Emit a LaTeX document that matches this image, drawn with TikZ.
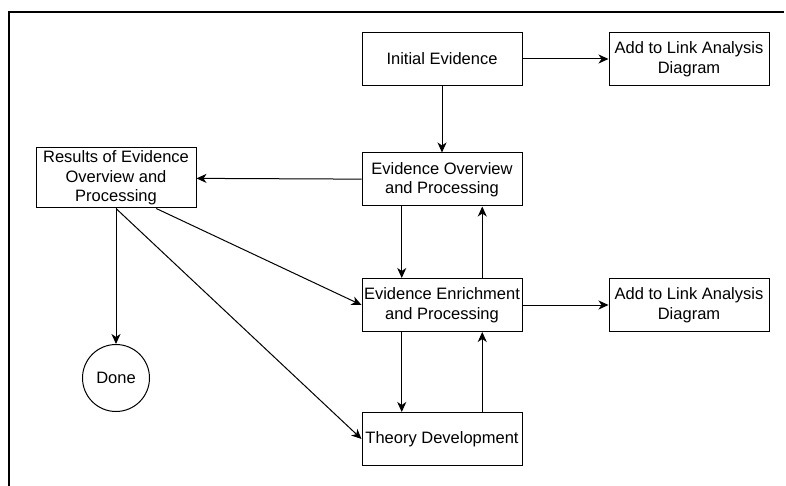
\documentclass[tikz,border=0pt]{standalone}
\usepackage{fontspec}
\setmainfont{Liberation Sans}
\usetikzlibrary{arrows.meta,calc}

\begin{document}
\begin{tikzpicture}[x=1pt,y=-1pt,
  box/.style={draw, line width=1pt, minimum width=160pt, minimum height=53pt,
    align=center, inner sep=2pt, font=\fontsize{16.5}{19.5}\selectfont},
  endnode/.style={draw, circle, line width=1pt, minimum size=67pt, inner sep=0pt,
    font=\fontsize{16.5}{19.5}\selectfont},
  flow/.style={-{Stealth[length=10pt,width=9pt,inset=3pt]}, line width=1pt}]

  % canvas and frame
  \useasboundingbox (0,0) rectangle (786,486);
  \draw[line width=2.5pt] (9,486) -- (9,12) -- (784,12);

  % main column
  \node[box] (initial) at (442,59) {Initial Evidence};
  \node[box] (overview) at (442,179.5) {Evidence Overview\\and Processing};
  \node[box] (enrich) at (442,305) {Evidence Enrichment\\and Processing};
  \node[box] (theory) at (442,439) {Theory Development};

  % link analysis
  \node[box] (linkA) at (689,59) {Add to Link Analysis\\Diagram};
  \node[box] (linkB) at (689,305) {Add to Link Analysis\\Diagram};

  % results and end
  \node[box, minimum height=60pt] (results) at (116,178) {Results of Evidence\\Overview and\\Processing};
  \node[endnode] (done) at (116,378) {Done};

  % connectors
  \draw[flow] (initial) -- (linkA);
  \draw[flow] (initial) -- (overview);
  \draw[flow] (overview) -- (results);
  \draw[flow] ($(overview.south west)!0.25!(overview.south east)$) -- ($(enrich.north west)!0.25!(enrich.north east)$);
  \draw[flow] ($(enrich.north west)!0.75!(enrich.north east)$) -- ($(overview.south west)!0.75!(overview.south east)$);
  \draw[flow] (enrich) -- (linkB);
  \draw[flow] ($(enrich.south west)!0.25!(enrich.south east)$) -- ($(theory.north west)!0.25!(theory.north east)$);
  \draw[flow] ($(theory.north west)!0.75!(theory.north east)$) -- ($(enrich.south west)!0.75!(enrich.south east)$);
  \draw[flow] (results.south) -- (done.north);
  \draw[flow] ($(results.south)!0.5!(results.south east)$) -- (enrich.west);
  \draw[flow] (results.south) -- (theory.west);
\end{tikzpicture}
\end{document}
